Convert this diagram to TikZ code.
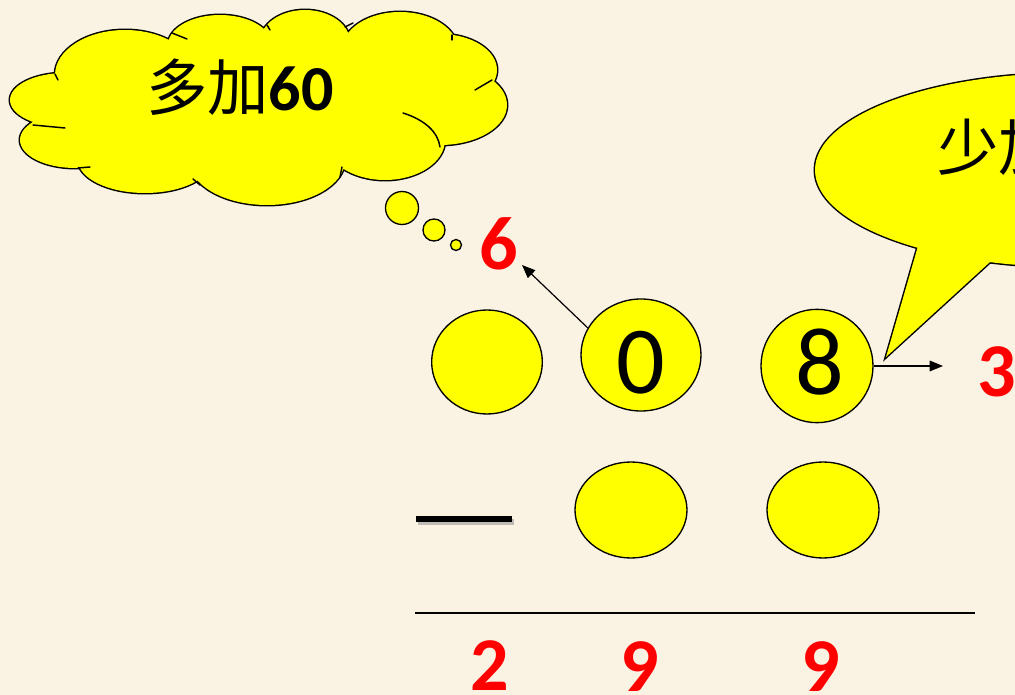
\documentclass[tikz,border=0pt]{standalone}
\usepackage{fontspec}
\setmainfont{Carlito}
\newfontfamily\cjk{Noto Sans CJK SC}
\usetikzlibrary{shapes.geometric,arrows.meta}
\definecolor{bg}{RGB}{250,242,227}
\definecolor{ylw}{RGB}{255,255,0}
\definecolor{rd}{RGB}{255,0,0}
\begin{document}
\begin{tikzpicture}[x=0.75pt,y=-0.75pt,
  ball/.style={ellipse,draw=black,fill=ylw,line width=1pt,inner sep=0pt},
  bigdigit/.style={font=\fontsize{72}{72}\selectfont,inner sep=0pt,anchor=base},
  reddigit/.style={font=\bfseries\fontsize{57}{57}\selectfont,text=rd,inner sep=0pt,anchor=base},
  cjktext/.style={font=\fontsize{46}{46}\selectfont,inner sep=0pt,anchor=base west},
  arr/.style={-{Triangle[length=10pt,width=8pt]},line width=0.9pt},
  outline/.style={line width=2.2pt,draw=black},
  frag/.style={line width=1.1pt,line cap=round},
  bubble/.style={draw=black,fill=ylw,line width=1pt},
]
\useasboundingbox (0,0) rectangle (1015,695);
\clip (0,0) rectangle (1015,695);
\fill[bg] (0,0) rectangle (1015,695);

% ---- thought cloud ----
\def\cloudlumps{
  (65,100) ellipse [x radius=55,y radius=27]
  (75,140) ellipse [x radius=55,y radius=28]
  (145,160) ellipse [x radius=67,y radius=33]
  (267,160) ellipse [x radius=78,y radius=45]
  (385,140) ellipse [x radius=60,y radius=40]
  (440,105) ellipse [x radius=67,y radius=40]
  (440,70) ellipse [x radius=57,y radius=36]
  (400,50) ellipse [x radius=58,y radius=38]
  (305,42) ellipse [x radius=45,y radius=32]
  (220,45) ellipse [x radius=52,y radius=30]
  (125,75) ellipse [x radius=70,y radius=45]
}
\path[outline] \cloudlumps;
\fill[ylw] \cloudlumps (255,108) ellipse [x radius=190,y radius=65];
% interior arc fragments
\draw[frag] (172,33) -- (187,39);
\draw[frag] (55,74) -- (58,80);
\draw[frag] (33,125) -- (65,128);
\draw[frag] (78,168) -- (90,167);
\draw[frag] (193,179) -- (200,185);
\draw[frag] (342,167) -- (340,177);
\draw[frag] (403,113) .. controls (425,120) and (438,132) .. (440,147);
\draw[frag] (475,90) -- (492,80);
\draw[frag] (452,35) -- (452,40);
\draw[frag] (345,27) -- (353,23);
\draw[frag] (267,25) -- (270,30);
\node[cjktext] (duo) at (146,111) {{\cjk 多加}{\bfseries\fontsize{48}{48}\selectfont 60}};
% bubbles
\draw[bubble] (402,208) circle [radius=16.5];
\draw[bubble] (434,230) circle [radius=11];
\draw[bubble] (456,245) circle [radius=5.5];

% ---- speech callout ----
\draw[outline,line join=miter] (1070,170) ellipse [x radius=255,y radius=97];
\draw[outline,line join=miter] (918,246) -- (886,357) -- (990,262) -- cycle;
\fill[ylw] (1070,170) ellipse [x radius=255,y radius=97];
\fill[ylw] (918,246) -- (886,357) -- (990,262) -- cycle;
\node[cjktext] (shao) at (937,171) {\cjk 少加};

% ---- number balls ----
\node[ball,minimum width=83pt,minimum height=78pt] (cA) at (487,362) {};
\node[ball,minimum width=90pt,minimum height=84pt] (c0) at (641,355) {};
\node[ball,minimum width=84pt,minimum height=85pt] (c8) at (817,366) {};
\node[ball,minimum width=84pt,minimum height=72pt] (cL1) at (631,510) {};
\node[ball,minimum width=84pt,minimum height=72pt] (cL2) at (823,510) {};
\node[bigdigit] (d0) at (641,394) {0};
\node[bigdigit] (d8) at (820,395) {8};

% red digits
\node[reddigit] (six) at (499,270) {6};
\node[reddigit] (three) at (997,397) {3};
\node[reddigit] (r2) at (490,690) {2};
\node[reddigit] (r9a) at (640,691) {9};
\node[reddigit] (r9b) at (821,691) {9};

% arrows
\coordinate (t6) at (522,265);
\coordinate (t3) at (943,366);
\draw[arr] (c0.153) -- (t6);
\draw[arr] (c8.east) -- (t3);

% minus sign and rule
\draw[line width=4.5pt,black!35,opacity=0.7] (418,522) -- (514,522);
\draw[line width=4.5pt] (416,519) -- (512,519);
\draw[line width=1.5pt] (415,613) -- (975,613);
\end{tikzpicture}
\end{document}
